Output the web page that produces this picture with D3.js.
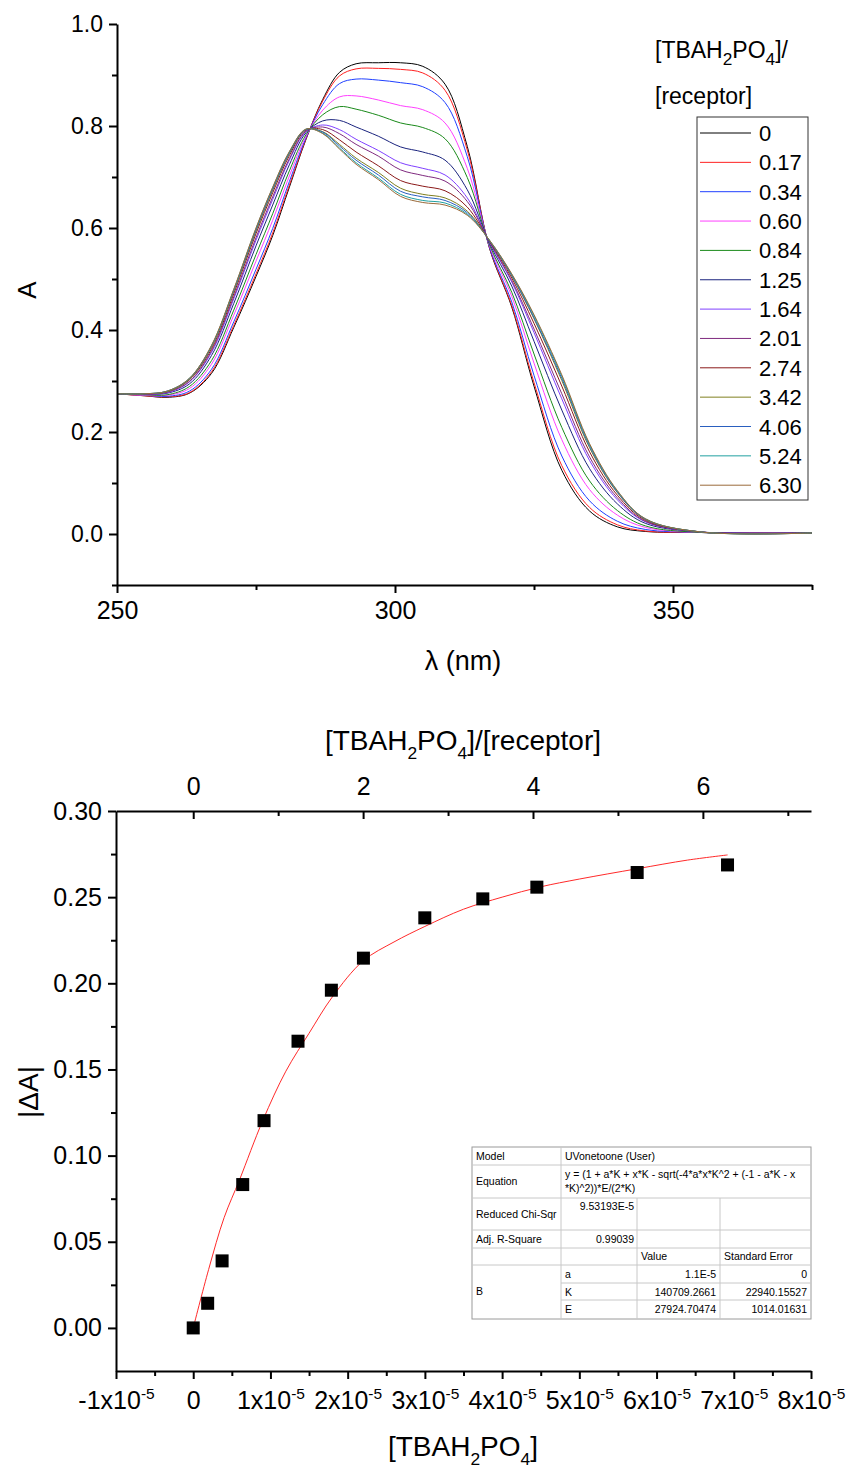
<!DOCTYPE html>
<html>
<head>
<meta charset="utf-8">
<script src="https://cdn.jsdelivr.net/npm/d3@7"></script>
<style>
body{margin:0;background:#fff}
svg text{font-family:"Liberation Sans",Arial,sans-serif;fill:#000}
.nar{font-family:"Liberation Sans Narrow","Liberation Sans",Arial,sans-serif}
</style>
</head>
<body>
<svg id="chart" width="846" height="1469"></svg>
<script>
// ---- UV titration spectra ----
var wavelengths = [250,255,259,263,267,271,275,278,281,284,287,290,293,297,301,305,309,313,317,321,325,330,335,340,345,355,375];
var ratioLabels = ['0','0.17','0.34','0.60','0.84','1.25','1.64','2.01','2.74','3.42','4.06','5.24','6.30'];
var lineColors = ['#000000','#ff2020','#2040ff','#ff40ff','#1a8a1a','#1a237e','#8040ff','#7f2a7f','#8b1a1a','#808020','#2a5fbf','#20a0a0','#9a6a3a'];

var a000 = [0.275,0.271,0.268,0.276,0.315,0.405,0.505,0.585,0.680,0.774,0.852,0.905,0.922,0.924,0.924,0.917,0.882,0.760,0.560,0.445,0.290,0.125,0.045,0.014,0.005,0.003,0.002];
var a017 = [0.275,0.271,0.269,0.277,0.318,0.409,0.510,0.590,0.684,0.775,0.849,0.898,0.912,0.913,0.911,0.904,0.870,0.753,0.561,0.448,0.297,0.134,0.052,0.018,0.006,0.003,0.002];
var a034 = [0.275,0.272,0.270,0.280,0.323,0.416,0.519,0.599,0.691,0.777,0.842,0.883,0.892,0.890,0.885,0.877,0.846,0.740,0.562,0.455,0.311,0.153,0.065,0.025,0.009,0.003,0.002];
var a060 = [0.275,0.272,0.272,0.285,0.333,0.429,0.535,0.615,0.702,0.780,0.831,0.857,0.859,0.851,0.840,0.832,0.806,0.717,0.565,0.466,0.335,0.185,0.087,0.037,0.013,0.003,0.002];
var a084 = [0.275,0.273,0.273,0.289,0.340,0.439,0.548,0.628,0.712,0.783,0.822,0.838,0.833,0.821,0.806,0.797,0.775,0.699,0.567,0.474,0.353,0.209,0.104,0.046,0.016,0.003,0.002];
var a125 = [0.275,0.274,0.276,0.294,0.350,0.452,0.565,0.645,0.724,0.787,0.810,0.811,0.798,0.780,0.759,0.749,0.733,0.675,0.570,0.486,0.378,0.243,0.128,0.059,0.021,0.004,0.002];
var a164 = [0.275,0.274,0.277,0.298,0.356,0.461,0.576,0.656,0.733,0.789,0.802,0.793,0.774,0.752,0.728,0.717,0.704,0.659,0.572,0.494,0.395,0.265,0.144,0.067,0.024,0.004,0.002];
var a201 = [0.275,0.274,0.278,0.299,0.359,0.465,0.581,0.661,0.736,0.790,0.798,0.785,0.764,0.741,0.714,0.703,0.692,0.652,0.573,0.497,0.402,0.275,0.151,0.071,0.025,0.004,0.002];
var a274 = [0.275,0.275,0.279,0.302,0.363,0.471,0.589,0.669,0.742,0.792,0.793,0.773,0.749,0.722,0.693,0.682,0.673,0.641,0.574,0.502,0.413,0.290,0.161,0.076,0.027,0.004,0.002];
var a342 = [0.275,0.275,0.279,0.303,0.367,0.476,0.594,0.674,0.746,0.793,0.789,0.764,0.737,0.709,0.678,0.666,0.659,0.633,0.575,0.506,0.422,0.301,0.169,0.081,0.029,0.004,0.002];
var a406 = [0.275,0.275,0.280,0.304,0.368,0.477,0.596,0.676,0.747,0.793,0.788,0.761,0.733,0.704,0.672,0.661,0.654,0.630,0.575,0.507,0.424,0.305,0.172,0.082,0.029,0.004,0.002];
var a524 = [0.275,0.275,0.280,0.305,0.369,0.479,0.599,0.679,0.749,0.794,0.786,0.757,0.728,0.698,0.666,0.654,0.649,0.627,0.576,0.509,0.428,0.309,0.175,0.084,0.030,0.004,0.002];
var a630 = [0.275,0.275,0.280,0.305,0.370,0.480,0.600,0.680,0.750,0.794,0.785,0.755,0.725,0.695,0.662,0.650,0.645,0.625,0.576,0.510,0.430,0.312,0.177,0.085,0.030,0.004,0.002];
var spectra = [a000,a017,a034,a060,a084,a125,a164,a201,a274,a342,a406,a524,a630];

var specXTicks = [250,300,350], specXMinor = [275,325,375];
var specYTicks = [0,0.2,0.4,0.6,0.8,1.0], specYMinor = [-0.1,0.1,0.3,0.5,0.7,0.9];

// ---- binding isotherm ----
var conc   = [0,0.187e-5,0.374e-5,0.641e-5,0.917e-5,1.357e-5,1.789e-5,2.204e-5,2.999e-5,3.75e-5,4.45e-5,5.749e-5,6.919e-5];
var deltaA = [0,0.0143,0.0389,0.0832,0.1203,0.1664,0.1960,0.2146,0.2380,0.2490,0.2558,0.2643,0.2687];
var fitX = [0,0.2e-5,0.4e-5,0.6e-5,0.9e-5,1.2e-5,1.5e-5,1.8e-5,2.2e-5,2.6e-5,3.0e-5,3.5e-5,4.0e-5,4.5e-5,5.0e-5,5.75e-5,6.4e-5,6.92e-5];
var fitY = [0,0.034,0.064,0.086,0.1203,0.149,0.171,0.192,0.213,0.224,0.233,0.243,0.250,0.256,0.2605,0.2665,0.2715,0.2745];
var receptorConc = 1.1e-5;
var isoXTicks = [-1,0,1,2,3,4,5,6,7,8];
var isoYTicks = [0,0.05,0.10,0.15,0.20,0.25,0.30];
var ratioTicks = [0,2,4,6], ratioMinor = [1,3,5,7];

var tableRows = [
  ['Model','UVonetoone (User)'],
  ['Equation','y = (1 + a*K + x*K - sqrt(-4*a*x*K^2 + (-1 - a*K - x','*K)^2))*E/(2*K)'],
  ['Reduced Chi-Sqr','9.53193E-5'],
  ['Adj. R-Square','0.99039'],
  ['','','Value','Standard Error'],
  ['B','a','1.1E-5','0'],
  ['','K','140709.2661','22940.15527'],
  ['','E','27924.70474','1014.01631']
];

var svg = d3.select('#chart');

function rich(t, parts, fs, k){
  var shift = 0; k = k || 0.62;
  parts.forEach(function(p){
    var s = p[1]==='sub' ? fs*0.32 : (p[1]==='sup' ? -fs*0.42 : 0);
    t.append('tspan').attr('dy', s - shift)
      .style('font-size', (p[1] ? fs*k : fs) + 'px').text(p[0]);
    shift = s;
  });
  return t;
}

function styleAxis(g, fs){
  g.select('.domain').attr('stroke','#000').attr('stroke-width',2);
  g.selectAll('.tick line').attr('stroke','#000').attr('stroke-width',2);
  g.selectAll('.tick text').style('font-size',fs+'px').attr('fill','#000');
}
function minorAxis(axis, vals, size){
  return axis.tickValues(vals).tickFormat('').tickSize(size);
}

// ================= TOP: spectra =================
var x1 = d3.scaleLinear().domain([250,375]).range([117,812]);
var y1 = d3.scaleLinear().domain([-0.1,1.0]).range([585,24]);

var line1 = d3.line()
  .x(function(d,i){ return x1(wavelengths[i]); })
  .y(function(d){ return y1(d); })
  .curve(d3.curveCatmullRom.alpha(0.5));

svg.append('g').selectAll('path').data(spectra).join('path')
  .attr('d', line1).attr('fill','none')
  .attr('stroke', function(d,i){ return lineColors[i]; })
  .attr('stroke-width',1);

var gy1 = svg.append('g').attr('transform','translate(117,0)')
  .call(d3.axisLeft(y1).tickValues(specYTicks).tickFormat(d3.format('.1f')).tickSize(8).tickSizeOuter(0).tickPadding(6));
styleAxis(gy1, 23);
var gy1m = svg.append('g').attr('transform','translate(117,0)').call(minorAxis(d3.axisLeft(y1), specYMinor, 5));
gy1m.select('.domain').remove(); styleAxis(gy1m, 10);

var gx1 = svg.append('g').attr('transform','translate(0,585)')
  .call(d3.axisBottom(x1).tickValues(specXTicks).tickSize(8).tickSizeOuter(0).tickPadding(8));
styleAxis(gx1, 25); gx1.selectAll('.tick text').attr('class','nar');
var gx1m = svg.append('g').attr('transform','translate(0,585)').call(minorAxis(d3.axisBottom(x1), specXMinor, 5));
gx1m.select('.domain').remove(); styleAxis(gx1m, 10);

svg.append('text').attr('class','nar').attr('x',463).attr('y',670).attr('text-anchor','middle')
  .style('font-size','27px').text('λ (nm)');
svg.append('text').attr('transform','translate(36,290) rotate(-90)').attr('text-anchor','middle')
  .style('font-size','26px').text('A');

// legend
rich(svg.append('text').attr('x',655).attr('y',58), [['[TBAH'],['2','sub'],['PO'],['4','sub'],[']/']], 23, 0.75);
svg.append('text').attr('x',655).attr('y',104).style('font-size','23px').text('[receptor]');
svg.append('rect').attr('x',697).attr('y',117).attr('width',111).attr('height',383)
  .attr('fill','none').attr('stroke','#333').attr('stroke-width',1);
var leg = svg.append('g').selectAll('g').data(ratioLabels).join('g')
  .attr('transform', function(d,i){ return 'translate(0,' + (133 + i*29.35) + ')'; });
leg.append('line').attr('x1',700).attr('x2',751)
  .attr('stroke', function(d,i){ return lineColors[i]; }).attr('stroke-width',1);
leg.append('text').attr('x',759).attr('y',8).style('font-size','22px').text(function(d){ return d; });

// ================= BOTTOM: isotherm =================
var x2 = d3.scaleLinear().domain([-1e-5,8e-5]).range([116,811]);
var xr = d3.scaleLinear().domain([-1e-5/receptorConc, 8e-5/receptorConc]).range([116,811]);
var y2 = d3.scaleLinear().domain([-0.025,0.30]).range([1371,811]);

var gy2 = svg.append('g').attr('transform','translate(116,0)')
  .call(d3.axisLeft(y2).tickValues(isoYTicks).tickFormat(d3.format('.2f')).tickSize(8).tickSizeOuter(0).tickPadding(6));
styleAxis(gy2, 25); gy2.selectAll('.tick text').attr('class','nar');
var gy2m = svg.append('g').attr('transform','translate(116,0)')
  .call(minorAxis(d3.axisLeft(y2), [0.025,0.075,0.125,0.175,0.225,0.275], 5));
gy2m.select('.domain').remove(); styleAxis(gy2m, 10);

var gx2 = svg.append('g').attr('transform','translate(0,1371)')
  .call(d3.axisBottom(x2).tickValues(isoXTicks.map(function(v){ return v*1e-5; })).tickSize(8).tickSizeOuter(0).tickPadding(8).tickFormat(''));
styleAxis(gx2, 25);
gx2.selectAll('.tick').each(function(d,i){
  var t = d3.select(this).append('text').attr('class','nar').attr('y',38).attr('text-anchor','middle')
    .style('font-size','25px');
  var n = isoXTicks[i];
  if (n === 0) t.text('0');
  else rich(t, [[n + 'x10'],['-5','sup']], 25);
});
var gx2m = svg.append('g').attr('transform','translate(0,1371)')
  .call(minorAxis(d3.axisBottom(x2), isoXTicks.slice(0,-1).map(function(v){ return (v+0.5)*1e-5; }), 5));
gx2m.select('.domain').remove(); styleAxis(gx2m, 10);

var gt2 = svg.append('g').attr('transform','translate(0,811)')
  .call(d3.axisTop(xr).tickValues(ratioTicks).tickSize(-8).tickSizeOuter(0).tickPadding(16));
styleAxis(gt2, 25); gt2.selectAll('.tick text').attr('class','nar');
var gt2m = svg.append('g').attr('transform','translate(0,811)').call(minorAxis(d3.axisTop(xr), ratioMinor, -5));
gt2m.select('.domain').remove(); styleAxis(gt2m, 10);

rich(svg.append('text').attr('class','nar').attr('x',463).attr('y',750).attr('text-anchor','middle'),
  [['[TBAH'],['2','sub'],['PO'],['4','sub'],[']/[receptor]']], 28);
rich(svg.append('text').attr('class','nar').attr('x',463).attr('y',1456).attr('text-anchor','middle'),
  [['[TBAH'],['2','sub'],['PO'],['4','sub'],[']']], 28);
svg.append('text').attr('class','nar').attr('transform','translate(38,1092) rotate(-90)').attr('text-anchor','middle')
  .style('font-size','28px').text('|ΔA|');

// fit curve
var fitLine = d3.line()
  .x(function(d,i){ return x2(fitX[i]); })
  .y(function(d){ return y2(d); })
  .curve(d3.curveCatmullRom.alpha(0.5));
svg.append('path').datum(fitY).attr('d', fitLine).attr('fill','none')
  .attr('stroke','#ff2a2a').attr('stroke-width',1);

svg.append('g').selectAll('rect').data(deltaA).join('rect')
  .attr('x', function(d,i){ return x2(conc[i]) - 6.5; })
  .attr('y', function(d){ return y2(d) - 6.5; })
  .attr('width',13).attr('height',13).attr('fill','#000');

// fit table
var tb = svg.append('g');
var colX = [472,561,637,720,811];
var rowY = [1147,1165,1198,1230,1248,1265,1283,1300,1319];
var inner = '#c8c8c8';
tb.append('rect').attr('x',colX[0]).attr('y',rowY[0]).attr('width',colX[4]-colX[0]).attr('height',rowY[8]-rowY[0])
  .attr('fill','#fff').attr('stroke','#9a9a9a').attr('stroke-width',1);
function hl(xa,xb,y){ tb.append('line').attr('x1',xa).attr('x2',xb).attr('y1',y).attr('y2',y).attr('stroke',inner); }
function vl(x,ya,yb){ tb.append('line').attr('x1',x).attr('x2',x).attr('y1',ya).attr('y2',yb).attr('stroke',inner); }
[1,2,3,4,5].forEach(function(r){ hl(colX[0],colX[4],rowY[r]); });
hl(colX[1],colX[4],rowY[6]); hl(colX[1],colX[4],rowY[7]);
vl(colX[1],rowY[0],rowY[8]);
vl(colX[2],rowY[2],rowY[8]); vl(colX[3],rowY[2],rowY[8]);

function cell(txt,x,y,anchor){
  tb.append('text').attr('x',x).attr('y',y).attr('text-anchor',anchor||'start')
    .style('font-size','10.5px').attr('fill','#111').text(txt);
}
cell(tableRows[0][0],476,1160); cell(tableRows[0][1],565,1160);
cell(tableRows[1][0],476,1185); cell(tableRows[1][1],565,1178); cell(tableRows[1][2],565,1192);
cell(tableRows[2][0],476,1218); cell(tableRows[2][1],634,1210,'end');
cell(tableRows[3][0],476,1243); cell(tableRows[3][1],634,1243,'end');
cell(tableRows[4][2],641,1260); cell(tableRows[4][3],724,1260);
cell(tableRows[5][0],476,1295);
[5,6,7].forEach(function(r){
  var yy = rowY[r] + 13;
  cell(tableRows[r][1],565,yy);
  cell(tableRows[r][2],716,yy,'end');
  cell(tableRows[r][3],807,yy,'end');
});
</script>
</body>
</html>
